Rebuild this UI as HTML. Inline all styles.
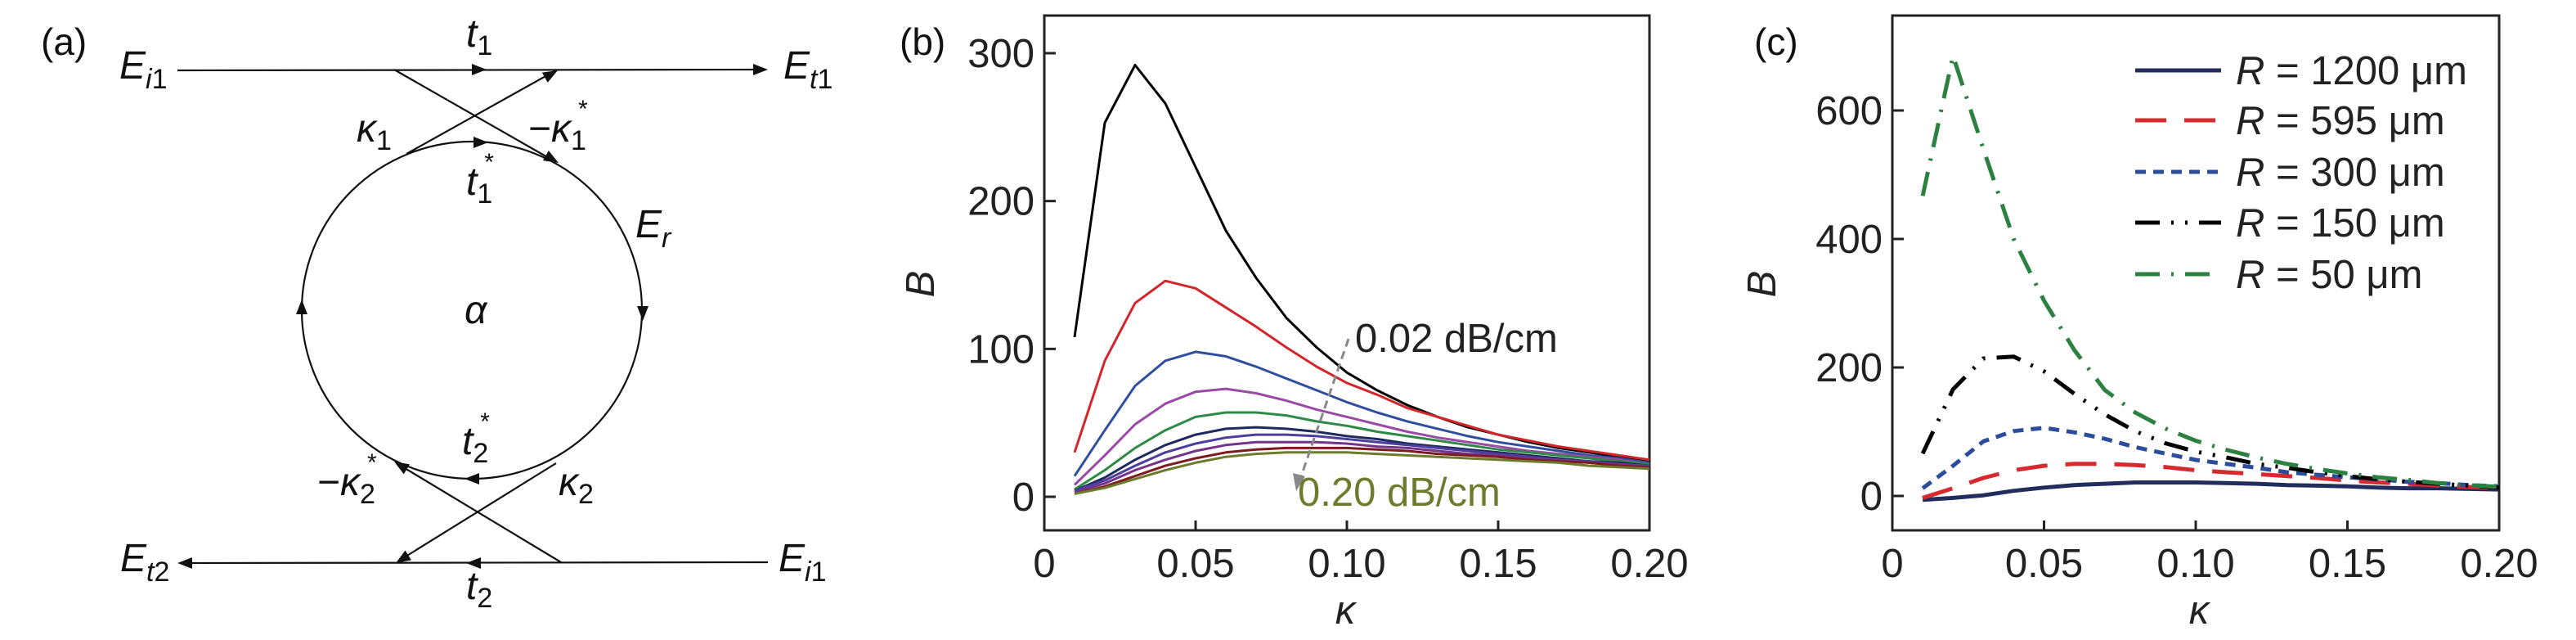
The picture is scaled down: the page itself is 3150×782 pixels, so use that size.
<!DOCTYPE html>
<html><head><meta charset="utf-8"><style>
html,body{margin:0;padding:0;background:#fff;}
svg{display:block;font-family:"Liberation Sans",sans-serif;}
</style></head><body>
<svg id="fig" width="3150" height="782" viewBox="0 0 3150 782" xmlns="http://www.w3.org/2000/svg">
<g id="pa" stroke="#111" stroke-width="2.2" fill="none"></g>
<g id="pb"></g>
<g id="pc"></g>
</svg>
<script>
// ---------- panel b data ----------
const kappaB = [0.01,0.02,0.03,0.04,0.05,0.06,0.07,0.08,0.09,0.10,0.11,0.12,0.13,0.14,0.15,0.16,0.17,0.18,0.19,0.20];
const b002 = [108,253,292,266,223,180,148,121,101,84,72,62,54,47,42,37,33,30,27,24];
const b004 = [30,92,131,146,141,128,115,101,88,77,69,60,54,48,42,38,34,31,28,25];
const b006 = [14,45,75,92,98,95,88,80,72,64,57,51,46,41,37,34,31,28,26,23];
const b008 = [8,28,49,63,71,73,70,65,59,54,49,44,40,37,34,31,29,27,25,22];
const b010 = [5,18,33,45,54,57,57,55,51,48,44,41,38,35,32,30,28,26,24,22];
const b012 = [4,13,25,35,42,46,47,46,44,41,39,36,34,32,30,28,26,24,23,21];
const b014 = [4,11,21,30,36,40,42,42,41,39,37,35,33,31,29,27,25,24,22,21];
const b016 = [3,9,18,25,31,35,37,37,37,36,34,33,31,29,28,26,25,23,22,20];
const b018 = [2,7,14,21,26,30,32,33,33,33,32,31,29,28,27,25,24,23,21,20];
const b020 = [2,6,12,18,23,27,29,30,30,30,29,28,27,26,25,24,23,21,20,19];
const xTicksB = [0,0.05,0.10,0.15,0.20];
const xTickLabelsB = ["0","0.05","0.10","0.15","0.20"];
const yTicksB = [0,100,200,300];
// ---------- panel c data ----------
const kappaC = [0.01,0.02,0.03,0.04,0.05,0.06,0.07,0.08,0.09,0.10,0.11,0.12,0.13,0.14,0.15,0.16,0.17,0.18,0.19,0.20];
const c1200 = [-6,-3,1,8,13,17,19,21,21,21,20,19,17,16,15,13,12,12,11,10];
const c595 = [-3,12,28,40,47,50,50,48,45,40,37,34,31,28,24,21,19,16,14,12];
const c300 = [12,47,85,101,106,99,89,76,66,56,50,44,37,33,29,26,22,20,17,15];
const c150 = [66,166,214,217,194,159,127,101,82,69,60,50,44,37,31,26,22,19,16,13];
const c50 = [467,685,540,400,304,227,165,130,105,86,72,60,50,42,35,29,25,20,17,14];
const xTicksC = [0,0.05,0.10,0.15,0.20];
const xTickLabelsC = ["0","0.05","0.10","0.15","0.20"];
const yTicksC = [0,200,400,600];

const NS="http://www.w3.org/2000/svg";
function mk(parent,tag,attrs,text){const e=document.createElementNS(NS,tag);for(const k in attrs)e.setAttribute(k,attrs[k]);if(text!==undefined)e.textContent=text;parent.appendChild(e);return e;}

// ---------- panel a ----------
const pa=document.getElementById('pa');
function arrowHead(x,y,dx,dy,name){
  const L=Math.hypot(dx,dy);const ux=dx/L,uy=dy/L;const len=18,hw=7;
  const bx=x-ux*len,by=y-uy*len;
  const p=mk(pa,'polygon',{points:`${x},${y} ${bx-uy*hw},${by+ux*hw} ${bx+uy*hw},${by-ux*hw}`,fill:'#111',stroke:'none'});
  
  
}
let l;
l=mk(pa,'line',{x1:217,y1:86,x2:935,y2:85});
l=mk(pa,'line',{x1:223,y1:688,x2:939,y2:687});
l=mk(pa,'line',{x1:482,y1:85,x2:678,y2:197});
l=mk(pa,'line',{x1:497,y1:188,x2:678,y2:87});
l=mk(pa,'line',{x1:686,y1:687,x2:485,y2:566});
l=mk(pa,'line',{x1:680,y1:566,x2:488,y2:685});
l=mk(pa,'ellipse',{cx:577,cy:379,rx:208,ry:206});
arrowHead(595,85,1,0,'arrow-t1');
arrowHead(939,85,1,0,'arrow-out-top');
arrowHead(682,86,1.8,-1,'arrow-kappa1');
arrowHead(683,199,1.75,1,'arrow-minus-kappa1');
arrowHead(597,174,1,0,'arrow-t1-star');
arrowHead(786,392,0,1,'arrow-ring-right');
arrowHead(369,366,0,-1,'arrow-ring-left');
arrowHead(568,585,-1,0,'arrow-t2-star');
arrowHead(217,688,-1,0,'arrow-out-bottom');
arrowHead(570,688,-1,0,'arrow-t2');
arrowHead(484,688,-1.6,1,'arrow-kappa2');
arrowHead(482,564,-1.65,-1,'arrow-minus-kappa2');
function lab(parent,x,y,html,name,size,anchor,color){
  const t=mk(parent,'text',{x:x,y:y,'font-size':size||48,'text-anchor':anchor||'start',fill:color||'#111',stroke:'none'});
  t.innerHTML=html;
  
  
  return t;
}
lab(pa,50,67,'(a)','panel-a-label',46);
lab(pa,146,96,'<tspan font-style="italic">E</tspan><tspan font-size="34" dy="12" font-style="italic">i</tspan><tspan font-size="34">1</tspan>','label-Ei1-top');
lab(pa,958,96,'<tspan font-style="italic">E</tspan><tspan font-size="34" dy="12" font-style="italic">t</tspan><tspan font-size="34">1</tspan>','label-Et1');
lab(pa,570,57,'<tspan font-style="italic">t</tspan><tspan font-size="34" dy="10">1</tspan>','label-t1');
lab(pa,436,173,'<tspan font-style="italic">κ</tspan><tspan font-size="34" dy="10">1</tspan>','label-kappa1');
lab(pa,646,173,'−<tspan font-style="italic">κ</tspan><tspan font-size="34" dy="10">1</tspan><tspan font-size="30" dx="-10" dy="-40">*</tspan>','label-minus-kappa1-star');
lab(pa,570,238,'<tspan font-style="italic">t</tspan><tspan font-size="34" dy="10">1</tspan><tspan font-size="30" dx="-10" dy="-40">*</tspan>','label-t1-star');
lab(pa,777,290,'<tspan font-style="italic">E</tspan><tspan font-size="34" dy="12" font-style="italic">r</tspan>','label-Er');
lab(pa,568,395,'<tspan font-style="italic">α</tspan>','label-alpha');
lab(pa,565,555,'<tspan font-style="italic">t</tspan><tspan font-size="34" dy="10">2</tspan><tspan font-size="30" dx="-10" dy="-40">*</tspan>','label-t2-star');
lab(pa,388,605,'−<tspan font-style="italic">κ</tspan><tspan font-size="34" dy="10">2</tspan><tspan font-size="30" dx="-10" dy="-40">*</tspan>','label-minus-kappa2-star');
lab(pa,683,605,'<tspan font-style="italic">κ</tspan><tspan font-size="34" dy="10">2</tspan>','label-kappa2');
lab(pa,147,698,'<tspan font-style="italic">E</tspan><tspan font-size="34" dy="12" font-style="italic">t</tspan><tspan font-size="34">2</tspan>','label-Et2');
lab(pa,952,698,'<tspan font-style="italic">E</tspan><tspan font-size="34" dy="12" font-style="italic">i</tspan><tspan font-size="34">1</tspan>','label-Ei1-bottom');
lab(pa,570,732,'<tspan font-style="italic">t</tspan><tspan font-size="34" dy="10">2</tspan>','label-t2');

// ---------- generic axes ----------
function axes(g,box,xmin,xmax,ymin,ymax,xt,xtl,yt,prefix){
  const sx=v=>box.x0+(v-xmin)/(xmax-xmin)*(box.x1-box.x0);
  const sy=v=>box.yb-(v-ymin)/(ymax-ymin)*(box.yb-box.yt0);
  const r=mk(g,'rect',{x:box.x0,y:box.top,width:box.x1-box.x0,height:box.bottom-box.top,fill:'none',stroke:'#222','stroke-width':3});
  
  
  xt.forEach((v,i)=>{
    if(i>0&&i<xt.length-1){const t=mk(g,'line',{x1:sx(v),x2:sx(v),y1:box.bottom,y2:box.bottom-12,stroke:'#222','stroke-width':3});
      
      }
    const tl=mk(g,'text',{x:sx(v),y:705,'font-size':49,'text-anchor':'middle',fill:'#222'},xtl[i]);
    
    
  });
  yt.forEach(v=>{
    const t=mk(g,'line',{x1:box.x0,x2:box.x0+14,y1:sy(v),y2:sy(v),stroke:'#222','stroke-width':3});
    
    
    const tl=mk(g,'text',{x:box.x0-12,y:sy(v)+17,'font-size':49,'text-anchor':'end',fill:'#222'},String(v));
    
    
  });
  return {sx,sy};
}
function series(g,xs,ys,sc,style,name){
  const d=xs.map((x,i)=>(i?'L':'M')+sc.sx(x).toFixed(1)+','+sc.sy(ys[i]).toFixed(1)).join(' ');
  const p=mk(g,'path',Object.assign({d:d,fill:'none','stroke-linejoin':'round'},style));
  
  
}

// ---------- panel b ----------
const pb=document.getElementById('pb');
const scB=axes(pb,{x0:1277,x1:2017,top:19,bottom:648,yb:607,yt0:65},0,0.2,0,300,xTicksB,xTickLabelsB,yTicksB,'panel-b');
const colorsB=['#000000','#d2262c','#2f4f9e','#9a4aa6','#2f8a46','#1f2a5c','#4b3e9c','#73358a','#7c1b22','#6d7b2c'];
const namesB=['curve-0.02-dBcm','curve-0.04-dBcm','curve-0.06-dBcm','curve-0.08-dBcm','curve-0.10-dBcm','curve-0.12-dBcm','curve-0.14-dBcm','curve-0.16-dBcm','curve-0.18-dBcm','curve-0.20-dBcm'];
[b002,b004,b006,b008,b010,b012,b014,b016,b018,b020].forEach((s,i)=>series(pb,kappaB,s,scB,{stroke:colorsB[i],'stroke-width':3},namesB[i]));
let e=mk(pb,'line',{x1:1649,y1:414,x2:1590,y2:585,stroke:'#888','stroke-width':3,'stroke-dasharray':'10,6'});

e=mk(pb,'polygon',{points:'1585,600 1581,578 1596,582',fill:'#888'});

lab(pb,1657,430,'0.02 dB/cm','label-0.02-dBcm',49,'start','#222');
lab(pb,1587,618,'0.20 dB/cm','label-0.20-dBcm',49,'start','#6d7b2c');
lab(pb,1100,67,'(b)','panel-b-label',46);
lab(pb,1645,762,'<tspan font-style="italic">κ</tspan>','panel-b-x-axis-title',49,'middle','#222');
e=lab(pb,0,0,'<tspan font-style="italic">B</tspan>','panel-b-y-axis-title',49,'middle','#222');
e.setAttribute('transform','translate(1142,347) rotate(-90)');

// ---------- panel c ----------
const pc=document.getElementById('pc');
const scC=axes(pc,{x0:2314,x1:3056,top:19,bottom:648,yb:606,yt0:135},0,0.2,0,600,xTicksC,xTickLabelsC,yTicksC,'panel-c');
const stylesC=[
 {stroke:'#222d5e','stroke-width':5},
 {stroke:'#d62a2e','stroke-width':5,'stroke-dasharray':'38,22'},
 {stroke:'#2c4c9c','stroke-width':5,'stroke-dasharray':'13,9'},
 {stroke:'#000','stroke-width':5,'stroke-dasharray':'30,14,3,14,3,14'},
 {stroke:'#2d8140','stroke-width':5,'stroke-dasharray':'30,14,3,14'}
];
const namesC=['curve-R-1200um','curve-R-595um','curve-R-300um','curve-R-150um','curve-R-50um'];
const labelsC=['1200','595','300','150','50'];
[c1200,c595,c300,c150,c50].forEach((s,i)=>series(pc,kappaC,s,scC,stylesC[i],namesC[i]));
const legY=[86,147,210,272,335];
labelsC.forEach((t,i)=>{
  const ln=mk(pc,'line',Object.assign({x1:2611,x2:2716,y1:legY[i],y2:legY[i]},stylesC[i]));
  
  
  lab(pc,2734,legY[i]+17,'<tspan font-style="italic">R</tspan> = '+t+' μm','legend-entry-'+t,49,'start','#222');
});
lab(pc,2145,67,'(c)','panel-c-label',46);
lab(pc,2689,762,'<tspan font-style="italic">κ</tspan>','panel-c-x-axis-title',49,'middle','#222');
e=lab(pc,0,0,'<tspan font-style="italic">B</tspan>','panel-c-y-axis-title',49,'middle','#222');
e.setAttribute('transform','translate(2171,347) rotate(-90)');
</script>
</body></html>
